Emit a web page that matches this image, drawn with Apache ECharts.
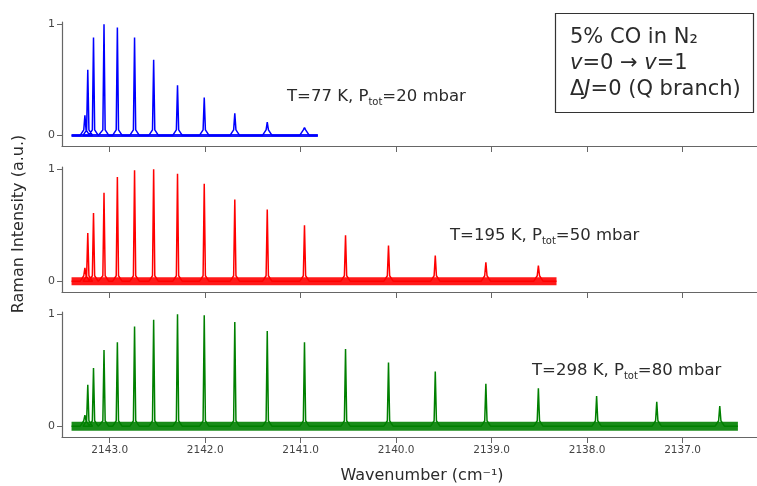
<!DOCTYPE html>
<html>
<head>
<meta charset="utf-8">
<script src="https://cdn.jsdelivr.net/npm/echarts@6/dist/echarts.min.js"></script>
<style>
  html, body { margin: 0; padding: 0; background: #fff; }
  #main { width: 757px; height: 486px; }
</style>
</head>
<body>
<div id="main"></div>
<script>
// Q-branch line positions (cm-1), J = 0 .. 19
const linePos = [2143.26, 2143.23, 2143.17, 2143.06, 2142.92, 2142.74, 2142.54, 2142.29,
  2142.01, 2141.69, 2141.35, 2140.96, 2140.53, 2140.08, 2139.59, 2139.06, 2138.51,
  2137.90, 2137.27, 2136.61];

// normalised peak heights per temperature
const peaks77 = [0.18, 0.59, 0.88, 1.0, 0.97, 0.88, 0.68, 0.45, 0.34, 0.20, 0.12, 0.07];
const peaks195 = [0.12, 0.43, 0.61, 0.79, 0.93, 0.99, 1.0, 0.96, 0.87, 0.73, 0.64, 0.50,
  0.41, 0.32, 0.23, 0.17, 0.14];
const peaks298 = [0.10, 0.37, 0.52, 0.68, 0.75, 0.89, 0.95, 1.0, 0.99, 0.93, 0.85, 0.75,
  0.69, 0.57, 0.49, 0.38, 0.34, 0.27, 0.22, 0.18];

// recorded range of each spectrum [start, end]
const range77 = [2143.40, 2140.82];
const range195 = [2143.40, 2138.32];
const range298 = [2143.40, 2136.42];

const xTicks = [2143, 2142, 2141, 2140, 2139, 2138, 2137];
const yTicks = [0, 1];

const colors = ['#0000ff', '#ff0000', '#008000'];

function spectrum(heights, range) {
  const pts = [[range[0], 0]];
  heights.forEach((h, i) => {
    const p = linePos[i];
    pts.push([p + 0.05, 0.0], [p + 0.012, 0.05], [p, h], [p - 0.012, 0.05], [p - 0.05, 0.0]);
  });
  pts.push([range[1], 0]);
  return pts;
}

const chart = echarts.init(document.getElementById('main'));
const axisColor = '#666';
const textColor = '#2b2b2b';
const font = 'DejaVu Sans';

const grids = [
  { left: 62, right: 0, top: 22, height: 124 },
  { left: 62, right: 0, top: 167, height: 125 },
  { left: 62, right: 0, top: 312, height: 125 }
];

const xAxes = grids.map((g, i) => ({
  type: 'value', gridIndex: i, inverse: true, min: 2136.22, max: 2143.5,
  axisLine: { show: true, onZero: false, lineStyle: { color: axisColor, width: 1.2 } },
  axisTick: { show: true, length: 6, customValues: xTicks, lineStyle: { color: axisColor } },
  axisLabel: {
    show: i === 2, customValues: xTicks, margin: 8,
    formatter: v => v.toFixed(1), color: '#444', fontFamily: font, fontSize: 10.5
  },
  splitLine: { show: false }
}));

const yAxes = grids.map((g, i) => ({
  type: 'value', gridIndex: i, min: -0.095, max: 1.02,
  axisLine: { show: true, lineStyle: { color: axisColor, width: 1.2 } },
  axisTick: { show: true, length: 5, customValues: yTicks, lineStyle: { color: axisColor } },
  axisLabel: { customValues: yTicks, margin: 7, color: '#444', fontFamily: font, fontSize: 11 },
  splitLine: { show: false }
}));

const sets = [[peaks77, range77, 3], [peaks195, range195, 8], [peaks298, range298, 9]];
const series = [];
sets.forEach(([h, r, bw], i) => {
  series.push({
    type: 'line', xAxisIndex: i, yAxisIndex: i, showSymbol: false, silent: true,
    data: [[r[0], 0], [r[1], 0]],
    lineStyle: { color: colors[i], width: bw, opacity: 0.9 }
  });
  series.push({
    type: 'line', xAxisIndex: i, yAxisIndex: i, showSymbol: false, silent: true,
    data: spectrum(h, r),
    lineStyle: { color: colors[i], width: 1.5 }
  });
});

function note(x, y, t, sub, rest) {
  return {
    type: 'text', x: x, y: y,
    style: {
      text: '{n|' + t + '}{s|' + sub + '}{n|' + rest + '}',
      verticalAlign: 'middle', fill: textColor,
      rich: {
        n: { fontFamily: font, fontSize: 16.5, lineHeight: 20, fill: textColor },
        s: { fontFamily: font, fontSize: 10, lineHeight: 20, verticalAlign: 'bottom', fill: textColor }
      }
    }
  };
}

const boxRich = {
  n: { fontFamily: font, fontSize: 21, fill: textColor },
  i: { fontFamily: font, fontSize: 21, fontStyle: 'italic', fill: textColor }
};

chart.setOption({
  animation: false,
  grid: grids,
  xAxis: xAxes,
  yAxis: yAxes,
  series: series,
  graphic: [
    note(287, 97, 'T=77 K, P', 'tot', '=20 mbar'),
    note(450, 236, 'T=195 K, P', 'tot', '=50 mbar'),
    note(532, 371, 'T=298 K, P', 'tot', '=80 mbar'),
    {
      type: 'rect', shape: { x: 555.5, y: 13.5, width: 198, height: 99 },
      style: { fill: '#fff', stroke: '#333', lineWidth: 1.2 }
    },
    { type: 'text', x: 570, y: 38, style: { text: '{n|5% CO in N₂}', rich: boxRich, verticalAlign: 'middle' } },
    { type: 'text', x: 570, y: 64, style: { text: '{i|v}{n|=0 → }{i|v}{n|=1}', rich: boxRich, verticalAlign: 'middle' } },
    { type: 'text', x: 570, y: 90, style: { text: '{n|Δ}{i|J}{n|=0 (Q branch)}', rich: boxRich, verticalAlign: 'middle' } },
    {
      type: 'text', x: 19, y: 224, rotation: Math.PI / 2,
      style: { text: 'Raman Intensity (a.u.)', fontFamily: font, fontSize: 16, fill: textColor, align: 'center', verticalAlign: 'middle' }
    },
    {
      type: 'text', x: 422, y: 476,
      style: { text: 'Wavenumber (cm⁻¹)', fontFamily: font, fontSize: 16, fill: textColor, align: 'center', verticalAlign: 'middle' }
    }
  ]
});
</script>
</body>
</html>
